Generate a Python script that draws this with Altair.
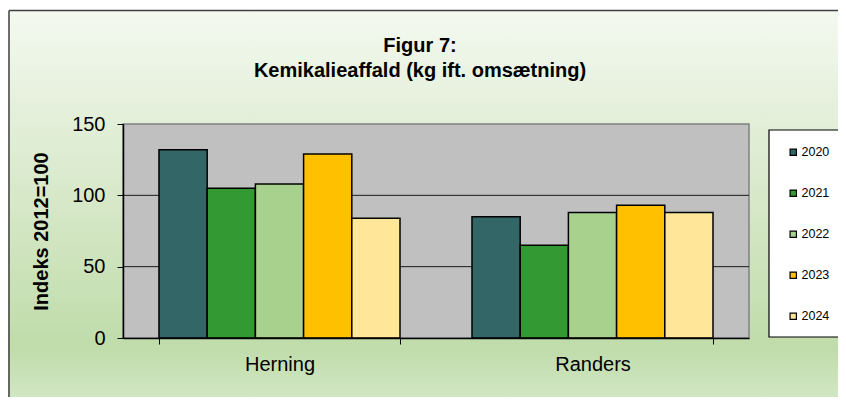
import altair as alt
import pandas as pd

title_lines = ["Figur 7:", "Kemikalieaffald (kg ift. omsætning)"]
cities = ["Herning", "Randers"]
years = ["2020", "2021", "2022", "2023", "2024"]
herning = [132, 105, 108, 129, 84]
randers = [85, 65, 88, 93, 88]
colors = ["#336666", "#339933", "#A9D18E", "#FFC000", "#FFE699"]
grid_values = [50, 100]

W, H = 626, 214
PL, PT, PR, PB = 115, 116, 89, 59

rows = []
for c, vals in zip(cities, [herning, randers]):
    for y, v in zip(years, vals):
        rows.append({"city": c, "year": y, "value": v})
df = pd.DataFrame(rows)

one = pd.DataFrame({"a": [0]})
FONT = "Liberation Sans"

bg = alt.Chart(one).mark_rect(
    fill=alt.Gradient(
        gradient="linear", x1=0, x2=0, y1=0, y2=1,
        stops=[
            alt.GradientStop(color="#f4f9f0", offset=0),
            alt.GradientStop(color="#e3efd9", offset=0.28),
            alt.GradientStop(color="#c0dcaa", offset=0.85),
            alt.GradientStop(color="#d4e8c8", offset=1),
        ],
    ),
    strokeWidth=0,
).encode(
    x=alt.value(-PL), x2=alt.value(W + PR + 10),
    y=alt.value(-PT + 2), y2=alt.value(H + PB + 10),
)

border_top = alt.Chart(one).mark_rule(color="#404040", strokeWidth=1.5).encode(
    x=alt.value(-PL + 1), x2=alt.value(W + PR + 10), y=alt.value(-PT + 2.5))
border_left = alt.Chart(one).mark_rule(color="#404040", strokeWidth=1.5).encode(
    x=alt.value(-PL + 1), y=alt.value(-PT + 2.5), y2=alt.value(H + PB + 10))


def title_line(text, ypos):
    return alt.Chart(pd.DataFrame({"t": [text]})).mark_text(
        font=FONT, fontSize=20, fontWeight="bold", color="#000000",
        align="center", baseline="alphabetic",
    ).encode(text="t:N", x=alt.value(297), y=alt.value(ypos))


t1 = title_line(title_lines[0], -72)
t2 = title_line(title_lines[1], -47)

plotbg = alt.Chart(one).mark_rect(
    fill="#C0C0C0", stroke="#808080", strokeWidth=1.5
).encode(x=alt.value(0), x2=alt.value(W), y=alt.value(0), y2=alt.value(H))

legend_box = alt.Chart(one).mark_rect(
    fill="#FFFFFF", stroke="#000000", strokeWidth=1.2
).encode(x=alt.value(646), x2=alt.value(W + PR + 10), y=alt.value(6), y2=alt.value(213))

grid = alt.Chart(pd.DataFrame({"v": grid_values})).mark_rule(
    color="#1a1a1a", strokeWidth=1
).encode(y=alt.Y("v:Q", scale=alt.Scale(domain=[0, 150])), x=alt.value(0), x2=alt.value(W))

bars = alt.Chart(df).mark_bar(stroke="#000000", strokeWidth=1.5).encode(
    x=alt.X("city:N", sort=cities,
            scale=alt.Scale(paddingInner=0.23, paddingOuter=0.115),
            axis=alt.Axis(title=None, labelAngle=0, labelFontSize=20, labelFont=FONT,
                          labelColor="#000000", tickColor="#000000", domainColor="#000000",
                          tickSize=6, tickBand="extent", labelPadding=10, zindex=1,
                          domainWidth=1.5, tickWidth=1)),
    xOffset=alt.XOffset("year:N", sort=years),
    y=alt.Y("value:Q", scale=alt.Scale(domain=[0, 150]),
            axis=alt.Axis(title="Indeks 2012=100", values=[0, 50, 100, 150], grid=False,
                          labelFontSize=20, labelFont=FONT, labelColor="#000000",
                          titleFontSize=20, titleFont=FONT, titleFontWeight="bold",
                          titleColor="#000000", titlePadding=20, tickColor="#000000",
                          domainColor="#000000", tickSize=6, labelPadding=12, zindex=1,
                          domainWidth=1.5, tickWidth=1)),
    color=alt.Color("year:N", sort=years,
                    scale=alt.Scale(domain=years, range=colors),
                    legend=alt.Legend(title=None, orient="none", legendX=646, legendY=6,
                                      padding=16, rowPadding=28, symbolType="square",
                                      symbolSize=40, symbolStrokeColor="#000000",
                                      symbolStrokeWidth=1.2, labelFontSize=12.5,
                                      labelFont=FONT, labelColor="#000000",
                                      labelOffset=2, symbolOffset=2, symbolOpacity=1)),
)

chart = alt.layer(bg, border_top, border_left, t1, t2, plotbg, legend_box, grid, bars).properties(
    width=W, height=H,
    autosize=alt.AutoSizeParams(type="none"),
    padding={"left": PL, "top": PT, "right": PR, "bottom": PB},
).configure_view(stroke=None).configure(background="#FFFFFF")

chart.save("out.html", embed_options={"renderer": "svg", "actions": False})
